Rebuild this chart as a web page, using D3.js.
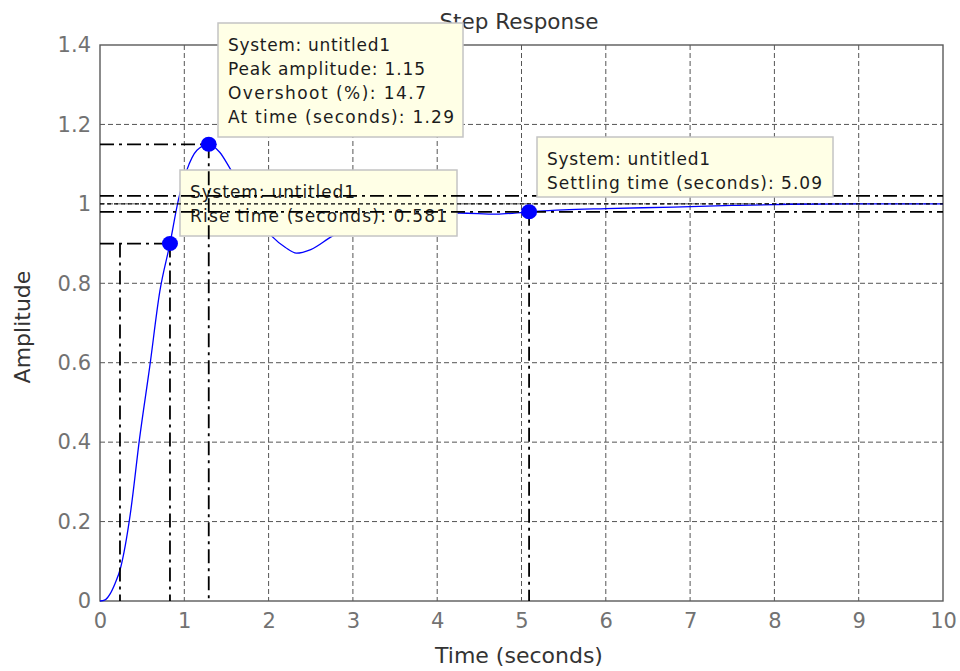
<!DOCTYPE html>
<html><head><meta charset="utf-8">
<script src="https://cdn.jsdelivr.net/npm/d3@7/dist/d3.min.js"></script>
<style>html,body{margin:0;padding:0;background:#fff;}svg{display:block;}</style>
</head><body>
<svg id="chart" width="960" height="671"></svg>
<script>
// ---------- data ----------
const timeS = [0,0.06,0.12,0.18,0.24,0.30,0.36,0.47,0.59,0.71,0.83,0.93,1.03,1.15,1.29,1.42,1.54,1.70,1.85,2.04,2.20,2.33,2.50,2.75,3.00,3.30,3.70,4.27,4.70,5.09,5.50,6.00,6.80,7.50,8.20,9.00,10.0];
const amplitude = [0,0.003,0.018,0.045,0.08,0.14,0.22,0.41,0.59,0.78,0.90,1.01,1.085,1.135,1.15,1.13,1.09,1.03,0.97,0.918,0.89,0.876,0.885,0.918,0.945,0.963,0.973,0.977,0.974,0.98,0.985,0.988,0.992,0.996,0.999,1.0,1.0];
const xTicks = [0,1,2,3,4,5,6,7,8,9,10];
const yTicks = [0,0.2,0.4,0.6,0.8,1,1.2,1.4];
const yTickLabels = ["0","0.2","0.4","0.6","0.8","1","1.2","1.4"];
const peakTime = 1.29, peakAmp = 1.15;
const riseT10 = 0.237, riseT90 = 0.83, riseAmp = 0.9;
const settleTime = 5.09, settleAmp = 0.98;
const bandLow = 0.98, bandHigh = 1.02, finalValue = 1.0;
const peakTip = ["System: untitled1","Peak amplitude: 1.15","Overshoot (%): 14.7","At time (seconds): 1.29"];
const riseTip = ["System: untitled1","Rise time (seconds): 0.581"];
const settleTip = ["System: untitled1","Settling time (seconds): 5.09"];
const titleText = "Step Response", xLabel = "Time (seconds)", yLabel = "Amplitude";

// ---------- layout ----------
const svg = d3.select("#chart");
const L = 100, R = 943, T = 45, B = 601;
const x = d3.scaleLinear().domain([0,10]).range([L,R]);
const y = d3.scaleLinear().domain([0,1.4]).range([B,T]);
const FONT = "DejaVu Sans, Verdana, sans-serif";

// grid
const grid = svg.append("g");
grid.selectAll(".gx").data(xTicks.slice(1,-1)).join("line")
  .attr("x1",d=>x(d)).attr("x2",d=>x(d)).attr("y1",T).attr("y2",B)
  .attr("stroke","#555").attr("stroke-width",1).attr("stroke-dasharray","5,3");
grid.selectAll(".gy").data(yTicks.slice(1,-1)).join("line")
  .attr("y1",d=>y(d)).attr("y2",d=>y(d)).attr("x1",L).attr("x2",R)
  .attr("stroke","#555").attr("stroke-width",1).attr("stroke-dasharray","5,3");

// frame
svg.append("rect").attr("x",L).attr("y",T).attr("width",R-L).attr("height",B-T)
  .attr("fill","none").attr("stroke","#5a5a5a").attr("stroke-width",1.4);

// axes
const xAxis = svg.append("g").attr("transform",`translate(0,${B})`)
  .call(d3.axisBottom(x).tickValues(xTicks).tickFormat(d3.format("d")).tickSize(0).tickPadding(0));
xAxis.select(".domain").remove();
xAxis.selectAll("text").attr("y",27).attr("dy",null)
  .attr("font-family",FONT).attr("font-size",21).attr("fill","#727272");
const yAxis = svg.append("g").attr("transform",`translate(${L},0)`)
  .call(d3.axisLeft(y).tickValues(yTicks).tickFormat((d,i)=>yTickLabels[i]).tickSize(0).tickPadding(9));
yAxis.select(".domain").remove();
yAxis.selectAll("text").attr("font-family",FONT).attr("font-size",21).attr("fill","#727272");

// curve
const line = d3.line().x(d=>x(d[0])).y(d=>y(d[1])).curve(d3.curveMonotoneX);
svg.append("path").datum(timeS.map((t,i)=>[t,amplitude[i]]))
  .attr("d",line).attr("fill","none").attr("stroke","#0000ff").attr("stroke-width",1.3);

// tooltip helper
function tip(x0,y0,w,h,lines,lens,baseline0,tx){
  const g = svg.append("g");
  g.append("rect").attr("x",x0).attr("y",y0).attr("width",w).attr("height",h)
    .attr("fill","#ffffe6").attr("stroke","#c4c4c4").attr("stroke-width",1.5);
  g.selectAll("text").data(lines).join("text")
    .attr("x",tx).attr("y",(d,i)=>baseline0+i*24)
    .attr("font-family",FONT).attr("font-size",17).attr("fill","#1c1c1c")
    .attr("textLength",(d,i)=>lens[i]).attr("lengthAdjust","spacing")
    .text(d=>d);
}

// rise time tooltip (below characteristic lines)
tip(180,170,277,66,riseTip,[165,257],198,190);

// characteristic lines
const dd = "14,5,3,5";
const ch = svg.append("g").attr("stroke","#000").attr("stroke-width",1.8).attr("fill","none");
// steady state
ch.append("line").attr("x1",L).attr("x2",R).attr("y1",y(finalValue)).attr("y2",y(finalValue))
  .attr("stroke-dasharray","4,3").attr("stroke-width",1.2);
// settling band
[bandHigh,bandLow].forEach(v=>{
  ch.append("line").attr("x1",L).attr("x2",R).attr("y1",y(v)).attr("y2",y(v)).attr("stroke-dasharray",dd);
});
ch.append("line").attr("x1",x(settleTime)).attr("x2",x(settleTime)).attr("y1",y(settleAmp)).attr("y2",B).attr("stroke-dasharray",dd);
// peak
ch.append("line").attr("x1",L).attr("x2",x(peakTime)).attr("y1",y(peakAmp)).attr("y2",y(peakAmp)).attr("stroke-dasharray",dd);
ch.append("line").attr("x1",x(peakTime)).attr("x2",x(peakTime)).attr("y1",y(peakAmp)).attr("y2",B).attr("stroke-dasharray",dd);
// rise
ch.append("line").attr("x1",L).attr("x2",x(riseT90)).attr("y1",y(riseAmp)).attr("y2",y(riseAmp)).attr("stroke-dasharray",dd);
ch.append("line").attr("x1",x(riseT10)).attr("x2",x(riseT10)).attr("y1",y(riseAmp)).attr("y2",B).attr("stroke-dasharray",dd);
ch.append("line").attr("x1",x(riseT90)).attr("x2",x(riseT90)).attr("y1",y(riseAmp)).attr("y2",B).attr("stroke-dasharray",dd);

// markers
svg.selectAll(".mk").data([[riseT90,riseAmp],[peakTime,peakAmp],[settleTime,settleAmp]]).join("ellipse")
  .attr("cx",d=>x(d[0])).attr("cy",d=>y(d[1])).attr("rx",8).attr("ry",7.5).attr("fill","#0000ff");

// title (behind peak tooltip)
svg.append("text").attr("x",519).attr("y",29).attr("text-anchor","middle")
  .attr("font-family",FONT).attr("font-size",21.5).attr("fill","#333").text(titleText);

// other tooltips
tip(218,23,245,114,peakTip,[162,197,198,226],51,228);
tip(537,137,296,60,settleTip,[163,275],165,547);

// axis labels
svg.append("text").attr("x",519).attr("y",663).attr("text-anchor","middle")
  .attr("font-family",FONT).attr("font-size",22).attr("fill","#333").text(xLabel);
svg.append("text").attr("transform","translate(30,327) rotate(-90)").attr("text-anchor","middle")
  .attr("font-family",FONT).attr("font-size",22).attr("fill","#333").text(yLabel);
</script>
</body></html>
